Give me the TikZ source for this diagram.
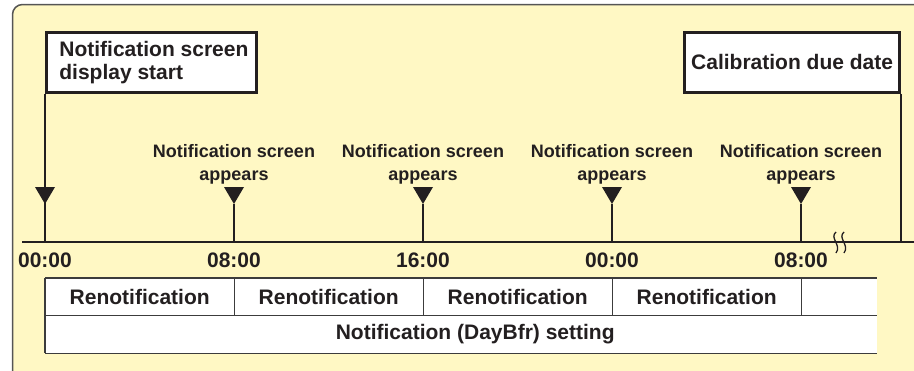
\documentclass[tikz,border=0pt]{standalone}
\usepackage{fontspec}
\setmainfont{Liberation Sans}
\definecolor{bg}{RGB}{255,248,196}
\definecolor{ink}{RGB}{35,31,32}
\definecolor{framec}{RGB}{85,85,85}
\definecolor{gridc}{RGB}{60,60,60}
\begin{document}
\begin{tikzpicture}[x=1pt,y=-1pt,
  every node/.style={text=ink, font=\bfseries\fontsize{21}{23}\selectfont},
  callout/.style={draw=ink, line width=2.8pt, fill=white, minimum height=60, inner ysep=0},
  lbl/.style={font=\bfseries\fontsize{18}{23}\selectfont, align=center, inner sep=0},
  cellbox/.style={fill=white, inner sep=0, anchor=north west},
  tline/.style={draw=gridc, line width=1.6pt},
  vline/.style={draw=ink, line width=2.6pt},
  axisline/.style={draw=ink, line width=2.8pt},
  squig/.style={draw=ink, line width=1.3pt},
  tri/.style={fill=ink}]
\useasboundingbox (0,0) rectangle (914,370);
\begin{scope}
\clip (0,0) rectangle (914,370);
\draw[framec, line width=1.5pt, fill=bg, rounded corners=10] (12.5,4.5) rectangle (940,400);
\end{scope}
% callout boxes
\node[callout, anchor=north west, align=left, minimum width=210, inner xsep=7] (start) at (45,31)
  {\hspace*{5pt}Notification screen\\\hspace*{5pt}display start};
\node[callout, anchor=north east, minimum width=215, inner xsep=6] (due) at (901,31) {Calibration due date};
% axis
\coordinate (axL) at (22,242);
\coordinate (axR) at (914,242);
\draw[axisline] (axL) -- (axR);
% vertical lines
\draw[vline] (start.south west) -- (start.south west |- axL);
\draw[vline] (due.south east) -- (due.south east |- axL);
\coordinate (m0) at (45,204);
\coordinate (m1) at (234,204);
\coordinate (m2) at (423,204);
\coordinate (m3) at (612,204);
\coordinate (m4) at (801,204);
\foreach \m in {m1,m2,m3,m4} {
  \draw[vline] (\m) -- (\m |- axL);
}
\foreach \m in {m0,m1,m2,m3,m4} {
  \fill[tri] (\m) -- ++(-10,-17) -- ++(20,0) -- cycle;
}
% labels
\node[lbl] (l1) at (234,164) {Notification screen\\appears};
\node[lbl] (l2) at (423,164) {Notification screen\\appears};
\node[lbl] (l3) at (612,164) {Notification screen\\appears};
\node[lbl] (l4) at (801,164) {Notification screen\\appears};
% times
\node (h0) at (45,260) {00:00};
\node (h1) at (234,260) {08:00};
\node (h2) at (423,260) {16:00};
\node (h3) at (612,260) {00:00};
\node (h4) at (801,260) {08:00};
% break symbol
\foreach \x in {835,843} {
  \draw[squig] (\x+1,232) .. controls (\x-6,238) and (\x+7,245) .. (\x+1,253);
}
% table
\node[cellbox, minimum width=189, minimum height=37] (c1) at (45,278) {Renotification};
\node[cellbox, minimum width=189, minimum height=37] (c2) at (234,278) {Renotification};
\node[cellbox, minimum width=189, minimum height=37] (c3) at (423,278) {Renotification};
\node[cellbox, minimum width=189, minimum height=37] (c4) at (612,278) {Renotification};
\node[cellbox, minimum width=76, minimum height=37] (c5) at (801,278) {};
\node[cellbox, minimum width=832, minimum height=38] (set) at (45,315) {\hspace*{28pt}Notification (DayBfr) setting};
\draw[tline] (c1.north west) -- (c5.north east);
\draw[tline] (c1.south west) -- (c5.south east);
\draw[tline] (set.south west) -- (set.south east);
\draw[tline] (c1.north west) -- (set.south west);
\foreach \c in {c1,c2,c3,c4} {
  \draw[tline] (\c.north east) -- (\c.south east);
}
\end{tikzpicture}
\end{document}
